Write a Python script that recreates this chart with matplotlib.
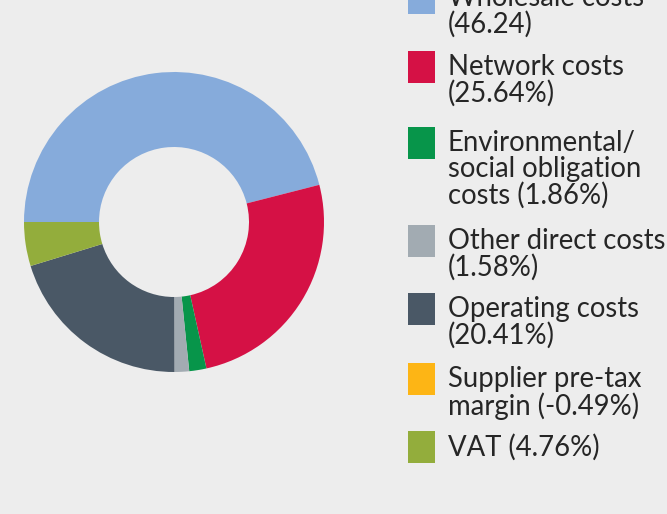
import matplotlib.pyplot as plt
from matplotlib.patches import Rectangle

labels = ['Wholesale costs\n(46.24)', 'Network costs\n(25.64%)',
          'Environmental/\nsocial obligation\ncosts (1.86%)',
          'Other direct costs\n(1.58%)', 'Operating costs\n(20.41%)',
          'Supplier pre-tax\nmargin (-0.49%)', 'VAT (4.76%)']
values = [46.24, 25.64, 1.86, 1.58, 20.41, -0.49, 4.76]
colors = ['#86abdb', '#d51145', '#07954a', '#a2abb2', '#4a5866', '#fdb515', '#93ad3c']
legend_tops = [-18, 51, 127, 225, 293, 363, 431]  # px from top

W, H = 667, 514
bg = '#ededed'
fig = plt.figure(figsize=(W / 100, H / 100), dpi=100, facecolor=bg)

# donut (negative slice is not drawn)
pie_vals = [v for v in values if v > 0]
pie_cols = [c for v, c in zip(values, colors) if v > 0]
ax = fig.add_axes([24 / W, (H - 372) / H, 300 / W, 300 / H])
ax.set_facecolor(bg)
ax.pie(pie_vals, colors=pie_cols, startangle=180, counterclock=False,
       radius=1, wedgeprops=dict(width=0.5, linewidth=0))
ax.set_xlim(-1, 1)
ax.set_ylim(-1, 1)
ax.set_aspect('equal')
ax.axis('off')

# legend drawn by hand
for lab, col, top in zip(labels, colors, legend_tops):
    fig.patches.append(Rectangle((408 / W, 1 - (top + 32) / H), 27 / W, 32 / H,
                                 transform=fig.transFigure, facecolor=col,
                                 edgecolor='none'))
    fig.text(448 / W, 1 - (top + 3) / H, lab, ha='left', va='top',
             fontsize=19.8, family='Lato', color='#262626', linespacing=1.0)

fig.savefig('out.png', dpi=100, facecolor=bg)
